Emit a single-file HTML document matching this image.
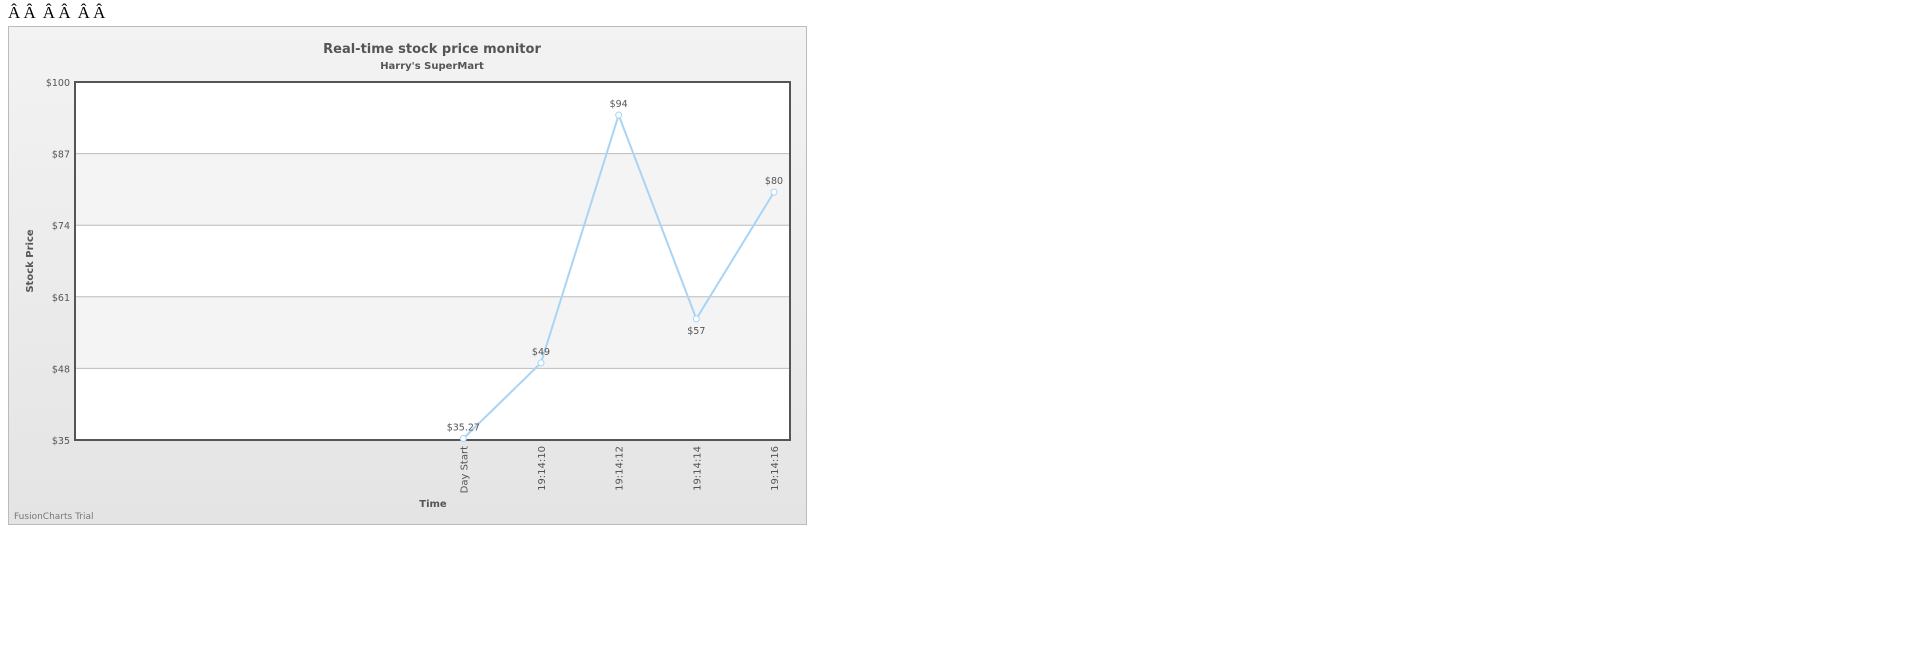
<!DOCTYPE html>
<html><head><meta charset="utf-8"><style>
html,body{margin:0;padding:0;background:#fff;width:1920px;height:654px;overflow:hidden}
.top{position:absolute;left:8px;top:3px;font-family:"Liberation Serif",serif;font-size:17px;color:#000;letter-spacing:-0.5px}
</style></head><body>
<div class="top">Â Â &nbsp;Â Â &nbsp;Â Â</div>
<svg id="chart" width="1920" height="654" style="position:absolute;left:0;top:0">
<defs><linearGradient id="bg" x1="0" y1="0" x2="0" y2="1"><stop offset="0" stop-color="#f3f3f3"/><stop offset="1" stop-color="#e4e4e4"/></linearGradient></defs>
<rect x="8.5" y="26.5" width="798" height="498" fill="url(#bg)" stroke="#bbb"/>
<g id="plot"></g>
<text x="432" y="53" text-anchor="middle" font-family="DejaVu Sans,sans-serif" font-size="13" font-weight="bold" fill="#555">Real-time stock price monitor</text>
<text x="432" y="69" text-anchor="middle" font-family="DejaVu Sans,sans-serif" font-size="10" font-weight="bold" fill="#555">Harry's SuperMart</text>
<text transform="translate(33,261) rotate(-90)" text-anchor="middle" font-family="DejaVu Sans,sans-serif" font-size="10" font-weight="bold" fill="#555">Stock Price</text>
<text x="433" y="507" text-anchor="middle" font-family="DejaVu Sans,sans-serif" font-size="10" font-weight="bold" fill="#555">Time</text>
<text x="14" y="519" font-family="DejaVu Sans,sans-serif" font-size="9" fill="#777">FusionCharts Trial</text>
</svg>
<script>
const categories = ["","","","","","Day Start","19:14:10","19:14:12","19:14:14","19:14:16"];
const prices = [null,null,null,null,null,35.27,49,94,57,80];
const priceLabels = ["","","","","","$35.27","$49","$94","$57","$80"];
const labelBelow = [false,false,false,false,false,false,false,false,true,false];
const yTicks = [35,48,61,74,87,100];
const yMin = 35, yMax = 100;

const NS="http://www.w3.org/2000/svg";
const g=document.getElementById('plot');
const L=75,T=82,R=790,B=440;
function y(v){return B-(v-yMin)/(yMax-yMin)*(B-T);}
function x(i){return L+i*(R-L-16)/(categories.length-1);}
function mk(tag,attrs,parent){const e=document.createElementNS(NS,tag);for(const k in attrs)e.setAttribute(k,attrs[k]);(parent||g).appendChild(e);return e;}
mk('rect',{x:L,y:T,width:R-L,height:B-T,fill:'#fff'});
for(let k=0;k<yTicks.length-1;k++){
  if(k%2===1){const b=mk('rect',{x:L,y:y(yTicks[k+1]),width:R-L,height:y(yTicks[k])-y(yTicks[k+1]),fill:'#f4f4f4'});
  
  }
}
yTicks.forEach(v=>{
  if(v!==yMin&&v!==yMax){const l=mk('line',{x1:L,x2:R,y1:y(v),y2:y(v),stroke:'#bbb','stroke-width':1});
  
  }
  const t=mk('text',{x:L-5,y:y(v)+4,'text-anchor':'end','font-family':'DejaVu Sans,sans-serif','font-size':'9.5',fill:'#555'});
  t.textContent='$'+v;
  
  
});
const border=mk('rect',{x:L,y:T,width:R-L,height:B-T,fill:'none',stroke:'#555','stroke-width':2});


categories.forEach((c,i)=>{
  if(!c)return;
  const t=mk('text',{transform:`translate(${x(i)+4},${B+6}) rotate(-90)`,'text-anchor':'end','font-family':'DejaVu Sans,sans-serif','font-size':'10',fill:'#555'});
  t.textContent=c;
  
  
});
let d='';
prices.forEach((v,i)=>{if(v==null)return;d+=(d?'L':'M')+x(i)+','+y(v);});
const line=mk('path',{d:d,fill:'none',stroke:'#a8d4f5','stroke-width':2});


prices.forEach((v,i)=>{
  if(v==null)return;
  const p=mk('circle',{cx:x(i),cy:y(v),r:3,fill:'#fff',stroke:'#a8d4f5','stroke-width':1});
  
  
  const t=mk('text',{x:x(i),y:labelBelow[i]?y(v)+15:y(v)-8,'text-anchor':'middle','font-family':'DejaVu Sans,sans-serif','font-size':'9.5',fill:'#555'});
  t.textContent=priceLabels[i];
  
  
});
</script>
</body></html>
